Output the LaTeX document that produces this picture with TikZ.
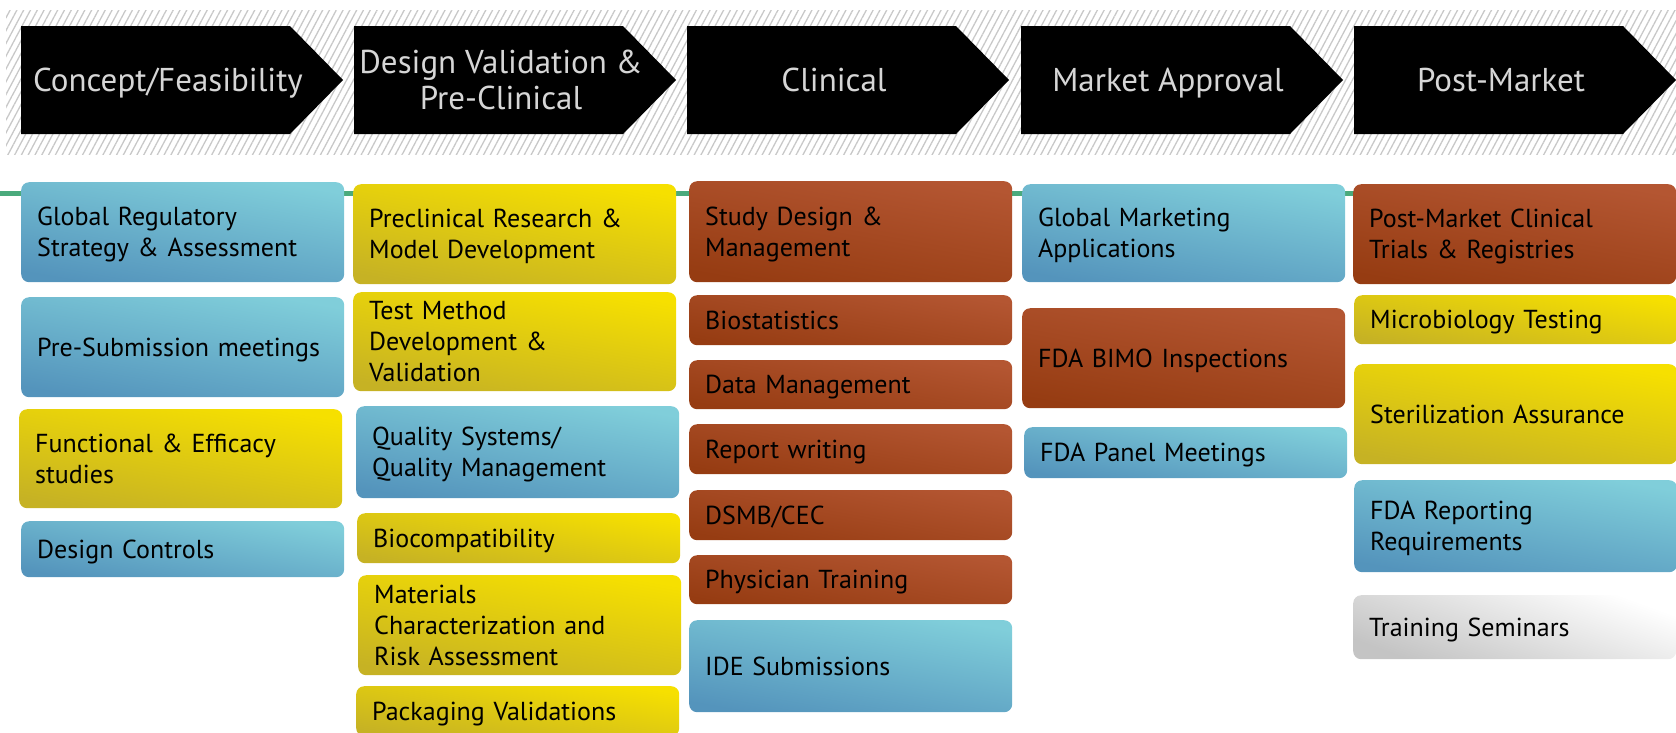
\documentclass[tikz,border=0pt]{standalone}
\usepackage{fontspec}
\setmainfont{PT Sans}
\usetikzlibrary{patterns.meta}

\definecolor{hatchgray}{RGB}{200,200,200}
\definecolor{phasetext}{RGB}{214,214,214}
\definecolor{linegreen}{RGB}{74,170,124}
\definecolor{blueL}{RGB}{128,206,218}
\definecolor{blueD}{RGB}{84,148,188}
\definecolor{yellowL}{RGB}{246,224,0}
\definecolor{yellowD}{RGB}{198,178,36}
\definecolor{rustL}{RGB}{180,86,50}
\definecolor{rustD}{RGB}{150,60,18}
\definecolor{grayD}{RGB}{196,196,196}

\tikzset{
  phase/.style={text=phasetext, align=center, font=\fontsize{33pt}{36pt}\selectfont},
  oneline/.style={text height=23pt, text depth=0pt},
  item/.style={anchor=north west, rounded corners=8pt, inner xsep=16pt, inner ysep=0pt,
    minimum width=323pt, text width=291pt, align=left, text=black,
    text height=18pt, text depth=0pt, font=\fontsize{26pt}{31pt}\selectfont},
  twolines/.style={text depth=31pt},
  threelines/.style={text depth=62pt},
  bluebox/.style={item, top color=blueL, bottom color=blueD, shading angle=-10},
  yellowbox/.style={item, top color=yellowL, bottom color=yellowD, shading angle=-10},
  rustbox/.style={item, top color=rustL, bottom color=rustD, shading angle=-10},
  graybox/.style={item, top color=white, bottom color=grayD, shading angle=-20},
}

\begin{document}
\begin{tikzpicture}[x=1pt,y=1pt,yscale=-1,xscale=1]
\useasboundingbox (0,0) rectangle (1676,732);
\clip (0,0) rectangle (1676,732);

%Hatched band behind the phases
\path [pattern={Lines[angle=62,distance=6pt,line width=1.3pt]}, pattern color=hatchgray] (6,10) rectangle (1676,154);

%Shape: Chevrons
\fill [black] (21,26) -- (290,26) -- (343,80) -- (290,134) -- (21,134) -- cycle ;
\fill [black] (354,26) -- (623,26) -- (676,80) -- (623,134) -- (354,134) -- cycle ;
\fill [black] (687,26) -- (956,26) -- (1009,80) -- (956,134) -- (687,134) -- cycle ;
\fill [black] (1021,26) -- (1290,26) -- (1343,80) -- (1290,134) -- (1021,134) -- cycle ;
\fill [black] (1354,26) -- (1623,26) -- (1676,80) -- (1623,134) -- (1354,134) -- cycle ;

% Text Node
\node [phase, oneline] (concept) at (168,80) {Concept/Feasibility};
\node [phase] (designval) at (501,80) {Design Validation \&\\Pre-Clinical};
\node [phase, oneline] (clinical) at (834,80) {Clinical};
\node [phase, oneline] (approval) at (1168,80) {Market Approval};
\node [phase, oneline] (postmkt) at (1501,80) {Post-Market};

%Straight Lines
\draw [linegreen, line width=5pt] (0,193.5) -- (1676,193.5) ;

% Concept/Feasibility column
\node [bluebox, twolines, minimum height=100pt] (glreg) at (21,182) {Global Regulatory\\Strategy \& Assessment};
\node [bluebox, minimum height=100pt] (presub) at (21,297) {Pre-Submission meetings};
\node [yellowbox, twolines, minimum height=99pt] (funceff) at (19,409) {Functional \& Efficacy\\studies};
\node [bluebox, minimum height=56pt] (dctrl) at (21,521) {Design Controls};

% Design Validation column
\node [yellowbox, twolines, minimum height=100pt] (preclin) at (353,184) {Preclinical Research \&\\Model Development};
\node [yellowbox, threelines, minimum height=99pt] (testmeth) at (353,292) {Test Method\\Development \&\\Validation};
\node [bluebox, twolines, minimum height=92pt] (qsys) at (356,406) {Quality Systems/\\Quality Management};
\node [yellowbox, minimum height=50pt] (biocomp) at (357,513) {Biocompatibility};
\node [yellowbox, threelines, minimum height=100pt] (matchar) at (358,575) {Materials\\Characterization and\\Risk Assessment};
\node [yellowbox, minimum height=50pt] (packval) at (356,686) {Packaging Validations};

% Clinical column
\node [rustbox, twolines, minimum height=101pt] (study) at (689,181) {Study Design \&\\Management};
\node [rustbox, minimum height=50pt] (biostat) at (689,295) {Biostatistics};
\node [rustbox, minimum height=49pt] (datamgmt) at (689,360) {Data Management};
\node [rustbox, minimum height=50pt] (report) at (689,424) {Report writing};
\node [rustbox, minimum height=50pt] (dsmb) at (689,490) {DSMB/CEC};
\node [rustbox, minimum height=49pt] (phystrain) at (689,555) {Physician Training};
\node [bluebox, minimum height=92pt] (ide) at (689,620) {IDE Submissions};

% Market Approval column
\node [bluebox, twolines, minimum height=98pt] (glmkt) at (1022,184) {Global Marketing\\Applications};
\node [rustbox, minimum height=100pt] (bimo) at (1022,308) {FDA BIMO Inspections};
\node [bluebox, minimum height=51pt] (panel) at (1024,427) {FDA Panel Meetings};

% Post-Market column
\node [rustbox, twolines, minimum height=100pt] (pmct) at (1353,184) {Post-Market Clinical\\Trials \& Registries};
\node [yellowbox, minimum height=49pt] (micro) at (1354,295) {Microbiology Testing};
\node [yellowbox, minimum height=100pt] (steril) at (1354,364) {Sterilization Assurance};
\node [bluebox, twolines, minimum height=92pt] (fdarep) at (1354,480) {FDA Reporting\\Requirements};
\node [graybox, minimum height=64pt] (training) at (1353,595) {Training Seminars};

\end{tikzpicture}
\end{document}
